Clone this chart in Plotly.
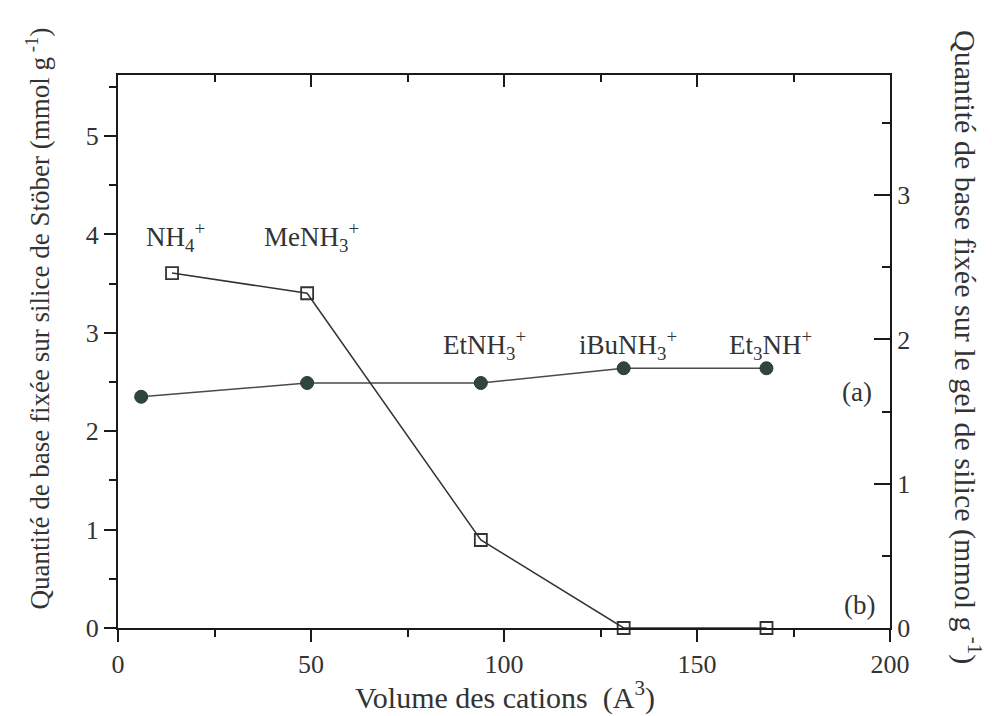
import plotly.graph_objects as go

# ---- data ----
cations = ["NH<sub>4</sub><sup>+</sup>", "MeNH<sub>3</sub><sup>+</sup>", "EtNH<sub>3</sub><sup>+</sup>",
           "iBuNH<sub>3</sub><sup>+</sup>", "Et<sub>3</sub>NH<sup>+</sup>"]
volume_a = [6, 49, 94, 131, 168]          # (a) silice de Stöber, left axis
base_a = [2.35, 2.49, 2.49, 2.64, 2.64]
volume_b = [14, 49, 94, 131, 168]         # (b) gel de silice, right axis
base_b = [2.46, 2.32, 0.61, 0.0, 0.0]
label_y = [3.97, 3.97, 2.88, 2.88, 2.88]  # cation label heights (left-axis units)

x_ticks = [0, 50, 100, 150, 200]
y_left_ticks = [0, 1, 2, 3, 4, 5]
y_right_ticks = [0, 1, 2, 3]

FONT = "Liberation Serif"
INK = "#1a1a1a"
TXT = "#333333"

fig = go.Figure()
fig.add_trace(go.Scatter(
    x=volume_a, y=base_a, mode="lines+markers", name="(a)",
    line=dict(color="#4a4a4a", width=1.5),
    marker=dict(symbol="circle", size=13, color="#2e4540", line=dict(color="#2a3a36", width=1)),
    yaxis="y", xaxis="x"))
fig.add_trace(go.Scatter(
    x=volume_b, y=base_b, mode="lines+markers", name="(b)",
    line=dict(color="#333333", width=1.5),
    marker=dict(symbol="square-open", size=12, color="#333333", line=dict(width=1.8)),
    yaxis="y2", xaxis="x", cliponaxis=False))
# invisible trace to activate the top (mirror) axis
fig.add_trace(go.Scatter(x=[0, 200], y=[None, None], xaxis="x2", yaxis="y", showlegend=False,
                         hoverinfo="skip", mode="lines"))

axis_common = dict(showline=True, linecolor=INK, linewidth=2, showgrid=False, zeroline=False,
                   tickcolor=INK, tickwidth=1.5,
                   tickfont=dict(family=FONT, size=26, color=TXT))

# the page adds an 8px body margin, so the figure is 8px smaller and margins compensate
fig.update_layout(
    width=984, height=708,
    paper_bgcolor="white", plot_bgcolor="white",
    margin=dict(l=110, r=102, t=67, b=88),
    showlegend=False,
    font=dict(family=FONT, color=TXT),
    xaxis=dict(range=[0, 200], tickvals=x_ticks, ticks="outside", ticklen=12,
               minor=dict(dtick=25, ticklen=7, tickcolor=INK, tickwidth=1.5, ticks="outside"),
               **axis_common),
    xaxis2=dict(range=[0, 200], overlaying="x", side="top", tickvals=x_ticks, ticks="inside",
                ticklen=12, showticklabels=False,
                minor=dict(dtick=25, ticklen=7, tickcolor=INK, tickwidth=1.5, ticks="inside"),
                **axis_common),
    yaxis=dict(range=[0, 5.62], tickvals=y_left_ticks, ticks="outside", ticklen=12,
               minor=dict(dtick=0.5, ticklen=7, tickcolor=INK, tickwidth=1.5, ticks="outside"),
               **axis_common),
    yaxis2=dict(range=[0, 5.62 * 0.682], overlaying="y", side="right", tickvals=y_right_ticks,
                ticks="inside", ticklen=16,
                minor=dict(dtick=0.5, ticklen=8, tickcolor=INK, tickwidth=1.5, ticks="inside"),
                **axis_common),
)

# cation labels
for name, xv, yv in zip(cations, volume_b, label_y):
    fig.add_annotation(x=xv + 1.0, y=yv, xref="x", yref="y", text=name, showarrow=False,
                       font=dict(family=FONT, size=27, color=TXT), xanchor="center",
                       yanchor="middle")

fig.add_annotation(x=191.5, y=2.40, xref="x", yref="y", text="(a)", showarrow=False,
                   font=dict(family=FONT, size=27, color=TXT))
fig.add_annotation(x=192, y=0.23, xref="x", yref="y", text="(b)", showarrow=False,
                   font=dict(family=FONT, size=27, color=TXT))

# axis titles
fig.add_annotation(x=-0.104, y=0.559, xref="paper", yref="paper",
                   text="Quantité de base fixée sur silice de Stöber (mmol g<sup> -1</sup>)",
                   textangle=-90, showarrow=False, xanchor="center", yanchor="middle",
                   font=dict(family=FONT, size=27, color=TXT))
fig.add_annotation(x=1.101, y=0.508, xref="paper", yref="paper",
                   text="Quantité de base fixée sur le gel de silice (mmol g<sup> -1</sup>)",
                   textangle=90, showarrow=False, xanchor="center", yanchor="middle",
                   font=dict(family=FONT, size=30, color=TXT))
fig.add_annotation(x=0.501, y=-0.122, xref="paper", yref="paper",
                   text="Volume des cations  (A<sup>3</sup>)", showarrow=False,
                   xanchor="center", yanchor="middle",
                   font=dict(family=FONT, size=30, color=TXT))

fig.write_html("out.html")
